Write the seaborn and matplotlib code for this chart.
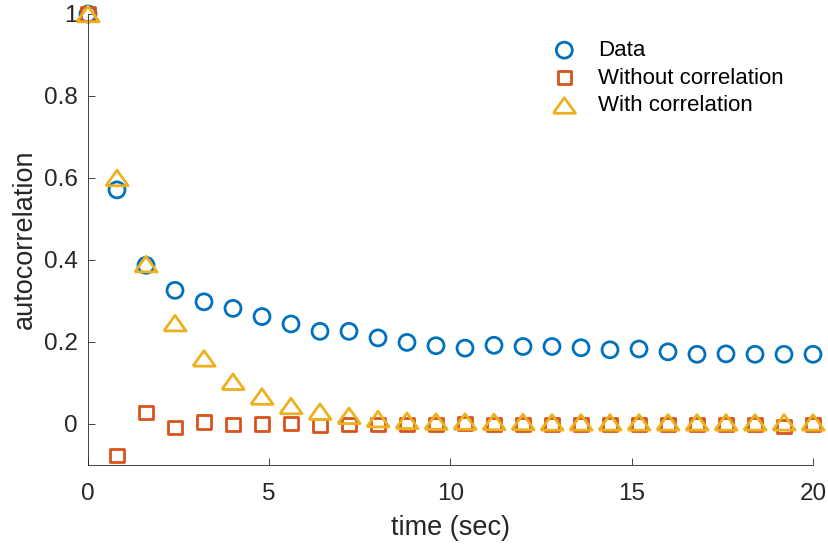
import matplotlib
matplotlib.use("Agg")
import matplotlib.pyplot as plt
import seaborn as sns
import pandas as pd

sns.set_style("white")
plt.rcParams["font.family"] = ["Liberation Sans", "DejaVu Sans"]

# Lag times (sec)
time_sec = [0.0, 0.8, 1.6, 2.4, 3.2, 4.0, 4.8, 5.6, 6.4, 7.2, 8.0, 8.8, 9.6,
            10.4, 11.2, 12.0, 12.8, 13.6, 14.4, 15.2, 16.0, 16.8, 17.6, 18.4,
            19.2, 20.0]

# Measured autocorrelation
acf_data = [1.0, 0.571, 0.387, 0.326, 0.298, 0.282, 0.262, 0.244, 0.226, 0.226,
            0.210, 0.199, 0.191, 0.185, 0.192, 0.189, 0.189, 0.186, 0.181,
            0.183, 0.176, 0.170, 0.171, 0.170, 0.170, 0.170]

# Model without correlation
acf_no_corr = [1.0, -0.076, 0.028, -0.008, 0.005, -0.002, 0.0, 0.001, -0.004,
               -0.002, -0.002, -0.002, -0.001, 0.002, -0.001, -0.002, -0.002,
               -0.001, -0.001, -0.002, -0.002, -0.001, -0.001, -0.001, -0.006,
               -0.002]

# Model with correlation
acf_corr = [1.0, 0.600, 0.390, 0.246, 0.160, 0.103, 0.067, 0.044, 0.030, 0.020,
            0.012, 0.008, 0.006, 0.006, 0.005, 0.005, 0.004, 0.004, 0.004,
            0.004, 0.004, 0.004, 0.004, 0.004, 0.004, 0.004]

series_names = ["Data", "Without correlation", "With correlation"]
series_colors = ["#0072BD", "#D95319", "#EDB120"]

df = pd.DataFrame({
    "time": time_sec * 3,
    "acf": acf_data + acf_no_corr + acf_corr,
    "series": [series_names[0]] * len(time_sec)
              + [series_names[1]] * len(time_sec)
              + [series_names[2]] * len(time_sec),
})

# wide, flat triangle
tri = [(-1.0, -0.7), (1.0, -0.7), (0.0, 0.7), (-1.0, -0.7)]
markers = ["o", "s", tri]
sizes = [11.5 ** 2, 9.5 ** 2, 16.0 ** 2]

fig = plt.figure(figsize=(8.29, 5.48), dpi=100)
ax = fig.add_axes([88 / 829, 1 - 465 / 548, (813 - 88) / 829, (465 - 14) / 548])

handles = []
for name, col, mk, sz in zip(series_names, series_colors, markers, sizes):
    sub = df[df["series"] == name]
    sns.scatterplot(data=sub, x="time", y="acf", ax=ax, marker=mk, s=sz,
                    facecolor="none", edgecolor=col, linewidth=2.0,
                    label=name, clip_on=False, legend=False)
    handles.append(ax.collections[-1])

ax.set_xlim(0, 20)
ax.set_ylim(-0.1, 1.0)
ax.set_xticks([0, 5, 10, 15, 20])
ax.set_yticks([0, 0.2, 0.4, 0.6, 0.8, 1.0])
ax.set_yticklabels(["0", "0.2", "0.4", "0.6", "0.8", "1"])

text_col = "#262626"
for side in ["top", "right"]:
    ax.spines[side].set_visible(False)
for side in ["left", "bottom"]:
    ax.spines[side].set_color(text_col)
    ax.spines[side].set_linewidth(0.6)
ax.tick_params(direction="in", length=5, width=0.6, colors=text_col,
               labelsize=17.5, left=True, bottom=True)
ax.tick_params(axis="x", pad=13)
ax.tick_params(axis="y", pad=7.5)

ax.set_xlabel("time (sec)", fontsize=19.5, color=text_col, labelpad=7.5)
ax.set_ylabel("autocorrelation", fontsize=19.5, color=text_col, labelpad=4)

ax.legend(handles=handles, labels=series_names, loc="upper left",
          bbox_to_anchor=(551 / 829, 1 - 40 / 548),
          bbox_transform=fig.transFigure, frameon=False, fontsize=16,
          handlelength=1.2, handletextpad=0.9, labelspacing=0.3,
          borderpad=0, borderaxespad=0, labelcolor="#000000")

fig.savefig("out.png", dpi=100)
